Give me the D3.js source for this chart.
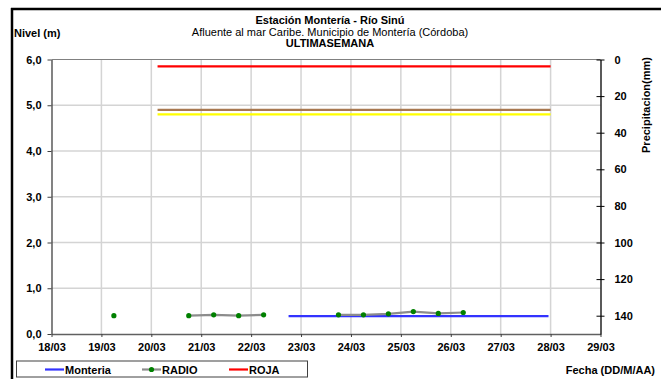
<!DOCTYPE html>
<html><head><meta charset="utf-8">
<script src="https://cdn.jsdelivr.net/npm/d3@7"></script>
<style>html,body{margin:0;padding:0;background:#fff;}svg text{font-family:"Liberation Sans",Arial,sans-serif;}</style>
</head><body><svg id="c" width="661" height="379"></svg>
<script>
// ---- data ----
const xTickLabels = ["18/03","19/03","20/03","21/03","22/03","23/03","24/03","25/03","26/03","27/03","28/03","29/03"];
const yTicks = [0,1,2,3,4,5,6];
const precipTicks = [0,20,40,60,80,100,120,140];
const radioTimes = ["2024-03-19T06:00","2024-03-19T18:00","2024-03-20T06:00","2024-03-20T18:00","2024-03-21T06:00","2024-03-21T18:00","2024-03-22T06:00","2024-03-22T18:00","2024-03-23T06:00","2024-03-23T18:00","2024-03-24T06:00","2024-03-24T18:00","2024-03-25T06:00","2024-03-25T18:00","2024-03-26T06:00"];
const radioValues = [0.40,null,null,0.40,0.42,0.40,0.42,null,null,0.42,0.42,0.44,0.49,0.45,0.47];
const monteriaTimes = ["2024-03-22T18:00","2024-03-27T23:00"];
const monteriaValues = [0.39,0.39];
const thresholdTimes = ["2024-03-20T03:00","2024-03-28T00:00"];
const thresholdNames = ["ROJA","NARANJA","AMARILLA"];
const thresholdValues = [5.85,4.9,4.8];
const thresholdColors = ["#ff0000","#a87850","#ffff00"];
const legendNames = ["Monteria","RADIO","ROJA"];

// ---- layout ----
const svg = d3.select("#c");
const L = 51.5, R = 600.5, T = 59.5, B = 334;
const parse = d3.isoParse;
const x = d3.scaleTime().domain([parse("2024-03-18T00:00"), parse("2024-03-29T00:00")]).range([L, R]);
const y = d3.scaleLinear().domain([0, 6]).range([B, T]);
const y2 = d3.scaleLinear().domain([0, 150]).range([T, B]);
const days = d3.timeDay.range(parse("2024-03-18T00:00"), parse("2024-03-29T01:00"));

svg.append("rect").attr("width",661).attr("height",379).attr("fill","#fff");

// outer frame
svg.append("line").attr("x1",12).attr("x2",12).attr("y1",8).attr("y2",379).attr("stroke","#000").attr("stroke-width",2.5);
svg.append("line").attr("x1",11).attr("x2",661).attr("y1",9).attr("y2",9).attr("stroke","#000").attr("stroke-width",2.5);

// gridlines
const g = svg.append("g");
g.selectAll(".vg").data(days.slice(1, -1)).join("line")
  .attr("x1", d=>x(d)).attr("x2", d=>x(d)).attr("y1", T).attr("y2", B)
  .attr("stroke","#d4d4d4").attr("stroke-width",1.5);
g.selectAll(".hg").data(yTicks.slice(1, -1)).join("line")
  .attr("x1", L).attr("x2", R).attr("y1", d=>y(d)).attr("y2", d=>y(d))
  .attr("stroke","#d4d4d4").attr("stroke-width",1.5);
// top border
g.append("line").attr("x1",L).attr("x2",R).attr("y1",T).attr("y2",T).attr("stroke","#808080").attr("stroke-width",1.2);

// axes
const fmtY = d => d.toFixed(1).replace(".", ",");
const ax = svg.append("g").attr("transform",`translate(${L},0)`)
  .call(d3.axisLeft(y).tickValues(yTicks).tickFormat(fmtY).tickSize(4).tickSizeOuter(0));
ax.select(".domain").attr("stroke","#404040").attr("stroke-width",1.3);
ax.selectAll(".tick line").attr("stroke","#404040");
ax.selectAll("text").attr("font-size",11).attr("font-weight","bold").attr("fill","#000").attr("x",-10);

const bx = svg.append("g").attr("transform",`translate(0,${B})`)
  .call(d3.axisBottom(x).tickValues(days).tickFormat((d,i)=>xTickLabels[i]).tickSize(3).tickSizeOuter(0));
bx.select(".domain").attr("stroke","#606060").attr("stroke-width",1.5);
bx.selectAll(".tick line").attr("stroke","#404040");
bx.selectAll("text").attr("font-size",11).attr("font-weight","bold").attr("fill","#000").attr("y",9);

const rx = svg.append("g").attr("transform",`translate(${R},0)`)
  .call(d3.axisRight(y2).tickValues(precipTicks).tickSize(4).tickSizeOuter(0));
rx.select(".domain").attr("stroke","#000").attr("stroke-width",1.3);
rx.selectAll(".tick line").attr("x1",-4).attr("x2",4).attr("stroke","#000");
rx.selectAll("text").attr("font-size",11).attr("font-weight","bold").attr("fill","#000").attr("x",14);

// threshold lines
svg.selectAll(".thr").data(thresholdValues).join("line")
  .attr("x1", x(parse(thresholdTimes[0]))).attr("x2", x(parse(thresholdTimes[1])))
  .attr("y1", d=>y(d)).attr("y2", d=>y(d))
  .attr("stroke", (d,i)=>thresholdColors[i]).attr("stroke-width",2.2);

// Monteria
const mData = monteriaTimes.map((t,i)=>({t:parse(t), v:monteriaValues[i]}));
svg.append("path").datum(mData)
  .attr("d", d3.line().x(d=>x(d.t)).y(d=>y(d.v)))
  .attr("fill","none").attr("stroke","#3333ff").attr("stroke-width",2.2);

// RADIO
const rData = radioTimes.map((t,i)=>({t:parse(t), v:radioValues[i]}));
svg.append("path").datum(rData)
  .attr("d", d3.line().defined(d=>d.v!==null).x(d=>x(d.t)).y(d=>y(d.v)))
  .attr("fill","none").attr("stroke","#8c8c8c").attr("stroke-width",2.2);
svg.selectAll(".rp").data(rData.filter(d=>d.v!==null)).join("circle")
  .attr("cx", d=>x(d.t)).attr("cy", d=>y(d.v)).attr("r",2.6).attr("fill","#008000");

// titles
const tx = (s, xx, yy, opts={}) => svg.append("text").attr("x",xx).attr("y",yy)
  .attr("font-size", opts.size||11).attr("font-weight", opts.bold?"bold":"normal")
  .attr("text-anchor", opts.anchor||"middle").attr("fill","#000").text(s);
tx("Estación Montería  - Río Sinú", 330, 24, {bold:true});
tx("Afluente al mar Caribe. Municipio de Montería (Córdoba)", 330, 36);
tx("ULTIMASEMANA", 330, 47, {bold:true});
tx("Nivel (m)", 14, 37, {bold:true, anchor:"start"});
tx("Fecha (DD/M/AA)", 655, 374, {bold:true, anchor:"end"});
svg.append("text").attr("transform","translate(650,105) rotate(-90)")
  .attr("text-anchor","middle").attr("font-size",11).attr("font-weight","bold").text("Precipitacion(mm)");

// legend
const lg = svg.append("g");
lg.append("rect").attr("x",16.5).attr("y",361).attr("width",291).attr("height",16)
  .attr("fill","#fff").attr("stroke","#404040").attr("stroke-width",1);
const legX = [45, 142, 229];
const legCol = ["#3333ff","#8c8c8c","#ff0000"];
legendNames.forEach((n,i)=>{
  lg.append("line").attr("x1",legX[i]).attr("x2",legX[i]+19).attr("y1",369.5).attr("y2",369.5)
    .attr("stroke",legCol[i]).attr("stroke-width",2.2);
  if (n==="RADIO") lg.append("circle").attr("cx",legX[i]+9.5).attr("cy",369.5).attr("r",2.6).attr("fill","#008000");
  lg.append("text").attr("x",legX[i]+20).attr("y",373.5).attr("font-size",11).attr("font-weight","bold").text(n);
});
</script></body></html>
